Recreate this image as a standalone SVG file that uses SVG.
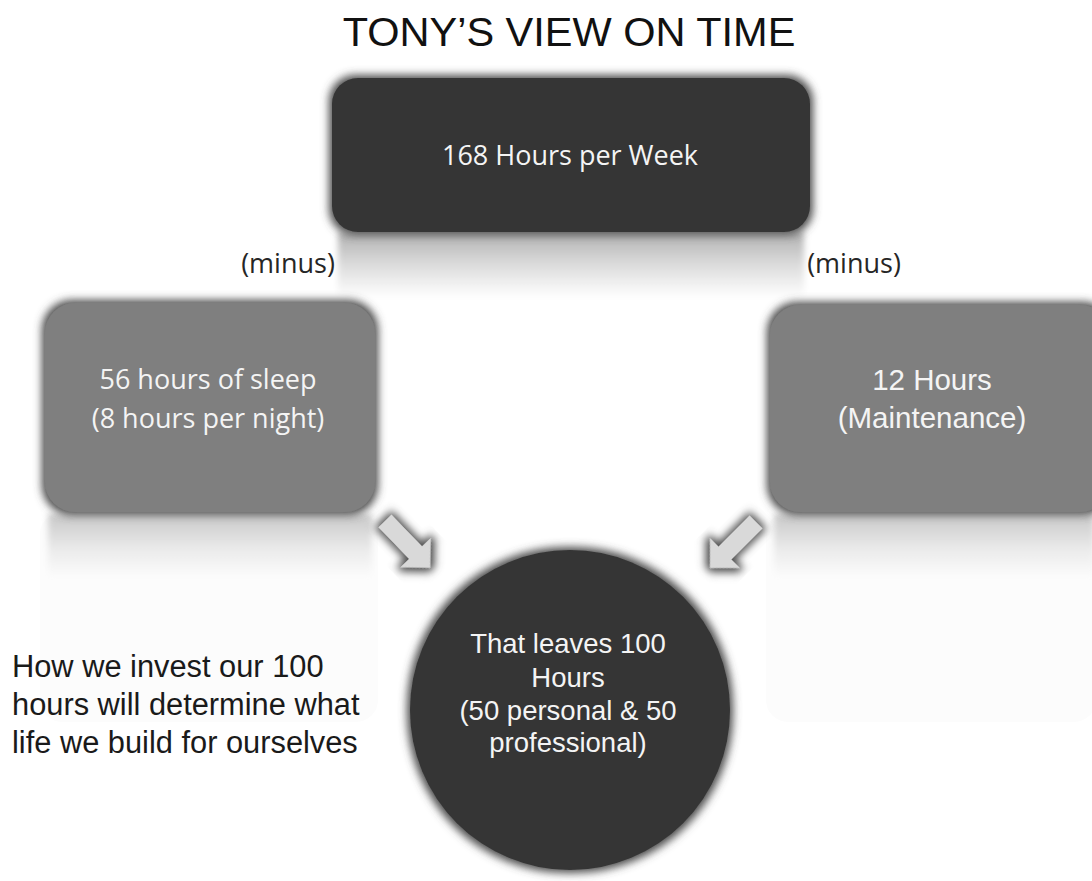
<svg xmlns="http://www.w3.org/2000/svg" width="1092" height="881" viewBox="0 0 1092 881">
  <defs>
    <style>
      .title { font-family: "Liberation Sans", Arial, sans-serif; font-size: 41.5px; fill: #111; }
      .cal { font-family: "Open Sans", "Noto Sans", sans-serif; font-size: 27px; fill: #f4f4f4; }
      .minus { font-family: "Open Sans", "Noto Sans", sans-serif; font-size: 27px; fill: #262626; }
      .ar { font-family: "Liberation Sans", Arial, sans-serif; fill: #f4f4f4; }
      .note { font-family: "Liberation Sans", Arial, sans-serif; font-size: 30.8px; fill: #1a1a1a; }
      .dark { fill: #353535; }
      .mid { fill: #7f7f7f; }
      .arrow { fill: #d9d9d9; }
    </style>
    <filter id="soft" x="-20%" y="-20%" width="140%" height="140%">
      <feMorphology in="SourceAlpha" operator="dilate" radius="3" result="d"/>
      <feGaussianBlur in="d" stdDeviation="4.5" result="b"/>
      <feFlood flood-color="#4a4a4a"/>
      <feComposite in2="b" operator="in" result="g"/>
      <feMerge><feMergeNode in="g"/><feMergeNode in="SourceGraphic"/></feMerge>
    </filter>
    <filter id="blur" x="-10%" y="-20%" width="120%" height="140%">
      <feGaussianBlur stdDeviation="3"/>
    </filter>
    <linearGradient id="refl" x1="0" y1="0" x2="0" y2="1">
      <stop offset="0" stop-color="#b0b0b0"/>
      <stop offset="0.5" stop-color="#dcdcdc"/>
      <stop offset="1" stop-color="#ffffff"/>
    </linearGradient>
    <linearGradient id="refl2" x1="0" y1="0" x2="0" y2="1">
      <stop offset="0" stop-color="#c8c8c8"/>
      <stop offset="0.6" stop-color="#ececec"/>
      <stop offset="1" stop-color="#fbfbfb"/>
    </linearGradient>
    <path id="arrowShape" d="M0,-9 L44,-9 L44,-21 L65,0 L44,21 L44,9 L0,9 Z"/>
  </defs>

  <rect width="1092" height="881" fill="#ffffff"/>

  <!-- reflections -->
  <g id="reflections">
    <rect x="40" y="512" width="338" height="210" rx="22" fill="#fcfcfc"/>
    <rect x="766" y="512" width="330" height="210" rx="22" fill="#fcfcfc"/>
    <rect x="338" y="232" width="466" height="66" fill="url(#refl)" filter="url(#blur)"/>
    <rect x="48" y="514" width="324" height="62" fill="url(#refl2)" filter="url(#blur)"/>
    <rect x="774" y="514" width="320" height="62" fill="url(#refl2)" filter="url(#blur)"/>
  </g>

  <g id="title">
    <text class="title" x="569" y="46" text-anchor="middle">TONY’S VIEW ON TIME</text>
  </g>

  <g id="node-total">
    <rect class="dark" x="332" y="78" width="478" height="154" rx="26" filter="url(#soft)"/>
    <text class="cal" x="570" y="165" text-anchor="middle">168 Hours per Week</text>
  </g>

  <g id="labels">
    <text class="minus" x="288" y="273" text-anchor="middle">(minus)</text>
    <text class="minus" x="854" y="273" text-anchor="middle">(minus)</text>
  </g>

  <g id="node-sleep">
    <rect class="mid" x="45" y="303" width="330" height="209" rx="30" filter="url(#soft)"/>
    <text class="cal" x="208" y="389" text-anchor="middle">56 hours of sleep</text>
    <text class="cal" x="208" y="428" text-anchor="middle">(8 hours per night)</text>
  </g>

  <g id="node-maint">
    <rect class="mid" x="770" y="305" width="340" height="207" rx="30" filter="url(#soft)"/>
    <text class="ar" x="932" y="390" text-anchor="middle" font-size="29.5">12 Hours</text>
    <text class="ar" x="932" y="428" text-anchor="middle" font-size="29.5">(Maintenance)</text>
  </g>

  <g id="connectors">
    <use href="#arrowShape" class="arrow" filter="url(#soft)" transform="translate(385,521) rotate(46)"/>
    <use href="#arrowShape" class="arrow" filter="url(#soft)" transform="translate(756,522) rotate(135)"/>
  </g>

  <g id="node-result">
    <circle class="dark" cx="570" cy="710" r="160" filter="url(#soft)"/>
    <text class="ar" x="568" y="653" text-anchor="middle" font-size="27.5">That leaves 100</text>
    <text class="ar" x="568" y="687" text-anchor="middle" font-size="27.5">Hours</text>
    <text class="ar" x="568" y="720" text-anchor="middle" font-size="27.5">(50 personal &amp; 50</text>
    <text class="ar" x="568" y="752" text-anchor="middle" font-size="27.5">professional)</text>
  </g>

  <g id="note">
    <text class="note" x="12" y="677">How we invest our 100</text>
    <text class="note" x="12" y="715">hours will determine what</text>
    <text class="note" x="12" y="753">life we build for ourselves</text>
  </g>
</svg>
